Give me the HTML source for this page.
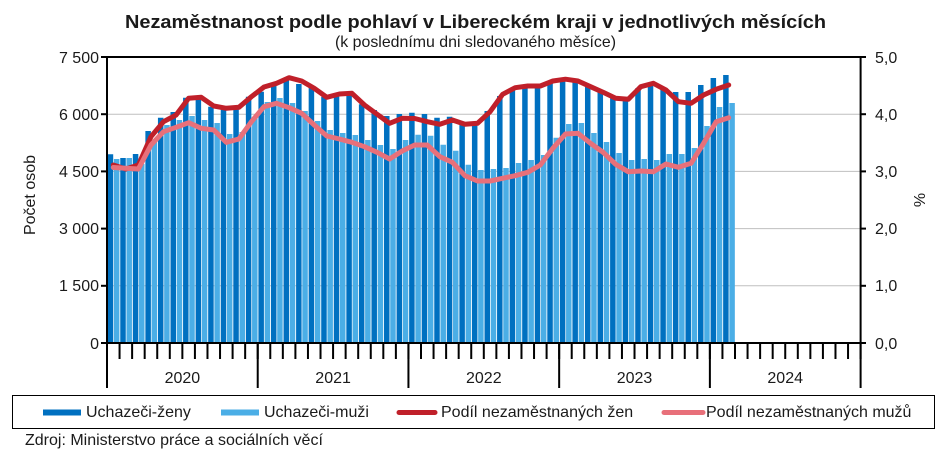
<!DOCTYPE html>
<html>
<head>
<meta charset="utf-8">
<style>
html,body{margin:0;padding:0;background:#fff;}
svg{display:block;}
text{font-family:"Liberation Sans",Arial,sans-serif;fill:#1a1a1a;}
</style>
</head>
<body>
<svg width="946" height="456" viewBox="0 0 946 456" xmlns="http://www.w3.org/2000/svg">
<rect width="946" height="456" fill="#fff"/>

<!-- Title -->
<text x="475.5" y="28" text-anchor="middle" font-size="18.5" font-weight="bold" fill="#000" textLength="701" lengthAdjust="spacingAndGlyphs">Nezaměstnanost podle pohlaví v Libereckém kraji v jednotlivých měsících</text>
<text x="475.5" y="47" text-anchor="middle" font-size="16" textLength="281" lengthAdjust="spacingAndGlyphs">(k poslednímu dni sledovaného měsíce)</text>

<!-- Gridlines -->
<g stroke="#BFBFBF" stroke-width="1">
<line x1="107" y1="285.8" x2="860.6" y2="285.8"/>
<line x1="107" y1="228.6" x2="860.6" y2="228.6"/>
<line x1="107" y1="171.4" x2="860.6" y2="171.4"/>
<line x1="107" y1="114.2" x2="860.6" y2="114.2"/>
</g>

<!-- Dark bars (Uchazeči-ženy) -->
<path fill="#0070C0" d="M107.7,343
V154.3h5.5V343z m12.56,0 V158h5.5V343z m12.56,0 V154h5.5V343z m12.56,0 V131h5.5V343z m12.56,0 V117.7h5.5V343z m12.56,0
V112h5.5V343z m12.56,0 V97.7h5.5V343z m12.56,0 V98.7h5.5V343z m12.56,0 V106.7h5.5V343z m12.56,0 V108h5.5V343z m12.56,0
V108h5.5V343z m12.56,0 V96.7h5.5V343z m12.56,0 V91.7h5.5V343z m12.56,0 V85.7h5.5V343z m12.56,0 V80h5.5V343z m12.56,0
V84h5.5V343z m12.56,0 V87.7h5.5V343z m12.56,0 V96.7h5.5V343z m12.56,0 V96h5.5V343z m12.56,0 V95.5h5.5V343z m12.56,0
V104.3h5.5V343z m12.56,0 V110h5.5V343z m12.56,0 V116h5.5V343z m12.56,0 V114h5.5V343z m12.56,0 V112.7h5.5V343z m12.56,0
V114h5.5V343z m12.56,0 V117.7h5.5V343z m12.56,0 V116.7h5.5V343z m12.56,0 V124.5h5.5V343z m12.56,0 V122h5.5V343z m12.56,0
V111h5.5V343z m12.56,0 V96h5.5V343z m12.56,0 V90h5.5V343z m12.56,0 V86.7h5.5V343z m12.56,0 V86.7h5.5V343z m12.56,0
V83.3h5.5V343z m12.56,0 V79h5.5V343z m12.56,0 V81.7h5.5V343z m12.56,0 V86.7h5.5V343z m12.56,0 V91.7h5.5V343z m12.56,0
V98.3h5.5V343z m12.56,0 V99.3h5.5V343z m12.56,0 V88.3h5.5V343z m12.56,0 V84.3h5.5V343z m12.56,0 V87.7h5.5V343z m12.56,0
V92h5.5V343z m12.56,0 V92h5.5V343z m12.56,0 V85h5.5V343z m12.56,0 V78h5.5V343z m12.56,0 V75h5.5V343z"/>

<!-- Light bars (Uchazeči-muži) -->
<path fill="#4BAEE6" d="M113.9,343
V159h5.5V343z m12.56,0 V158h5.5V343z m12.56,0 V164h5.5V343z m12.56,0 V142h5.5V343z m12.56,0 V125h5.5V343z m12.56,0
V120h5.5V343z m12.56,0 V116h5.5V343z m12.56,0 V120h5.5V343z m12.56,0 V123h5.5V343z m12.56,0 V134h5.5V343z m12.56,0
V132h5.5V343z m12.56,0 V118h5.5V343z m12.56,0 V102h5.5V343z m12.56,0 V98h5.5V343z m12.56,0 V103h5.5V343z m12.56,0
V111h5.5V343z m12.56,0 V121h5.5V343z m12.56,0 V130h5.5V343z m12.56,0 V133h5.5V343z m12.56,0 V135h5.5V343z m12.56,0
V140h5.5V343z m12.56,0 V145h5.5V343z m12.56,0 V149h5.5V343z m12.56,0 V140h5.5V343z m12.56,0 V134.7h5.5V343z m12.56,0
V135.7h5.5V343z m12.56,0 V144.7h5.5V343z m12.56,0 V150.7h5.5V343z m12.56,0 V164.7h5.5V343z m12.56,0 V170h5.5V343z m12.56,0
V169h5.5V343z m12.56,0 V168h5.5V343z m12.56,0 V163h5.5V343z m12.56,0 V160h5.5V343z m12.56,0 V155h5.5V343z m12.56,0
V137.7h5.5V343z m12.56,0 V124h5.5V343z m12.56,0 V123h5.5V343z m12.56,0 V133h5.5V343z m12.56,0 V142h5.5V343z m12.56,0
V153h5.5V343z m12.56,0 V160h5.5V343z m12.56,0 V159h5.5V343z m12.56,0 V160h5.5V343z m12.56,0 V154h5.5V343z m12.56,0
V154h5.5V343z m12.56,0 V148h5.5V343z m12.56,0 V126h5.5V343z m12.56,0 V107h5.5V343z m12.56,0 V103h5.5V343z"/>

<!-- Red line (Podíl nezaměstnaných žen) -->
<polyline fill="none" stroke="#C0202A" stroke-width="5" stroke-linejoin="round" stroke-linecap="round" points="113.28,165 125.84,169 138.40,165 150.96,136.7 163.52,121.7 176.08,115 188.64,98.3 201.20,97.3 213.76,106 226.32,108.3 238.88,107.3 251.44,96.7 264.00,87 276.56,83.3 289.12,77.7 301.68,81 314.24,88.3 326.80,97.3 339.36,94 351.92,93.3 364.48,105 377.04,114.3 389.60,123.3 402.16,118.3 414.72,118.5 427.28,121.7 439.84,124.3 452.40,120 464.96,124.3 477.52,123.3 490.08,111.7 502.64,94.3 515.20,87.7 527.76,86 540.32,86 552.88,81 565.44,79.2 578.00,81 590.56,86.7 603.12,92.3 615.68,98.3 628.24,99.3 640.80,86.7 653.36,83.3 665.92,90 678.48,101.7 691.04,103.3 703.60,95 716.16,89.3 728.72,85"/>

<!-- Pink line (Podíl nezaměstnaných mužů) -->
<polyline fill="none" stroke="#E8707A" stroke-width="5" stroke-linejoin="round" stroke-linecap="round" points="113.28,167.5 125.84,168.3 138.40,169 150.96,145 163.52,131.7 176.08,127.3 188.64,122.7 201.20,128.3 213.76,130 226.32,142.3 238.88,139 251.44,121.7 264.00,106.7 276.56,103.3 289.12,107.7 301.68,113.3 314.24,125 326.80,136 339.36,139 351.92,142.3 364.48,146.7 377.04,152.3 389.60,159 402.16,151 414.72,145 427.28,145 439.84,156.7 452.40,162.3 464.96,175.7 477.52,181 490.08,181 502.64,178.3 515.20,175.7 527.76,172.3 540.32,165 552.88,148.3 565.44,134 578.00,133.3 590.56,143.3 603.12,152.3 615.68,164.3 628.24,171.7 640.80,171 653.36,171.7 665.92,164 678.48,167.3 691.04,163.3 703.60,143.3 716.16,121.7 728.72,117.7"/>

<!-- Axes frame -->
<g stroke="#000" stroke-width="2" fill="none">
<line x1="106" y1="57" x2="861.6" y2="57"/>
<line x1="107" y1="56" x2="107" y2="344"/>
<line x1="860.6" y1="56" x2="860.6" y2="344"/>
<line x1="101" y1="343" x2="866" y2="343"/>
<!-- left ticks -->
<line x1="101" y1="57" x2="107" y2="57"/>
<line x1="101" y1="114.2" x2="107" y2="114.2"/>
<line x1="101" y1="171.4" x2="107" y2="171.4"/>
<line x1="101" y1="228.6" x2="107" y2="228.6"/>
<line x1="101" y1="285.8" x2="107" y2="285.8"/>
<!-- right ticks -->
<line x1="860.6" y1="57" x2="866" y2="57"/>
<line x1="860.6" y1="114.2" x2="866" y2="114.2"/>
<line x1="860.6" y1="171.4" x2="866" y2="171.4"/>
<line x1="860.6" y1="228.6" x2="866" y2="228.6"/>
<line x1="860.6" y1="285.8" x2="866" y2="285.8"/>
</g>
<!-- month ticks -->
<line x1="106" y1="351" x2="862" y2="351" stroke="#000" stroke-width="16" stroke-dasharray="2 10.56"/>
<!-- year ticks -->
<g stroke="#000" stroke-width="2">
<line x1="107" y1="343" x2="107" y2="388"/>
<line x1="257.72" y1="343" x2="257.72" y2="388"/>
<line x1="408.44" y1="343" x2="408.44" y2="388"/>
<line x1="559.16" y1="343" x2="559.16" y2="388"/>
<line x1="709.88" y1="343" x2="709.88" y2="388"/>
<line x1="860.6" y1="343" x2="860.6" y2="388"/>
</g>

<!-- Left axis labels -->
<g font-size="16" text-anchor="end">
<text x="99" y="63">7 500</text>
<text x="99" y="120">6 000</text>
<text x="99" y="177">4 500</text>
<text x="99" y="234">3 000</text>
<text x="99" y="291">1 500</text>
<text x="99" y="349">0</text>
</g>
<!-- Right axis labels -->
<g font-size="16" text-anchor="start">
<text x="875" y="63">5,0</text>
<text x="875" y="120">4,0</text>
<text x="875" y="177">3,0</text>
<text x="875" y="234">2,0</text>
<text x="875" y="291">1,0</text>
<text x="875" y="349">0,0</text>
</g>
<text transform="translate(35,195) rotate(-90)" text-anchor="middle" font-size="16">Počet osob</text>
<text transform="translate(925,200) rotate(-90)" text-anchor="middle" font-size="16">%</text>

<!-- Year labels -->
<g font-size="16" text-anchor="middle">
<text x="182.4" y="383">2020</text>
<text x="333.1" y="383">2021</text>
<text x="483.8" y="383">2022</text>
<text x="634.5" y="383">2023</text>
<text x="785.2" y="383">2024</text>
</g>

<!-- Legend -->
<rect x="12.5" y="395.5" width="922" height="33" fill="none" stroke="#000" stroke-width="1"/>
<rect x="43" y="409.5" width="38" height="6" fill="#0070C0"/>
<text x="86" y="417" font-size="16">Uchazeči-ženy</text>
<rect x="221" y="409.5" width="38" height="6" fill="#4BAEE6"/>
<text x="264" y="417" font-size="16">Uchazeči-muži</text>
<line x1="399" y1="412.5" x2="435" y2="412.5" stroke="#C0202A" stroke-width="5" stroke-linecap="round"/>
<text x="441" y="417" font-size="16">Podíl nezaměstnaných žen</text>
<line x1="664" y1="412.5" x2="703" y2="412.5" stroke="#E8707A" stroke-width="5" stroke-linecap="round"/>
<text x="706" y="417" font-size="16">Podíl nezaměstnaných mužů</text>

<!-- Source -->
<text x="25" y="445" font-size="16">Zdroj: Ministerstvo práce a sociálních věcí</text>
</svg>
</body>
</html>
